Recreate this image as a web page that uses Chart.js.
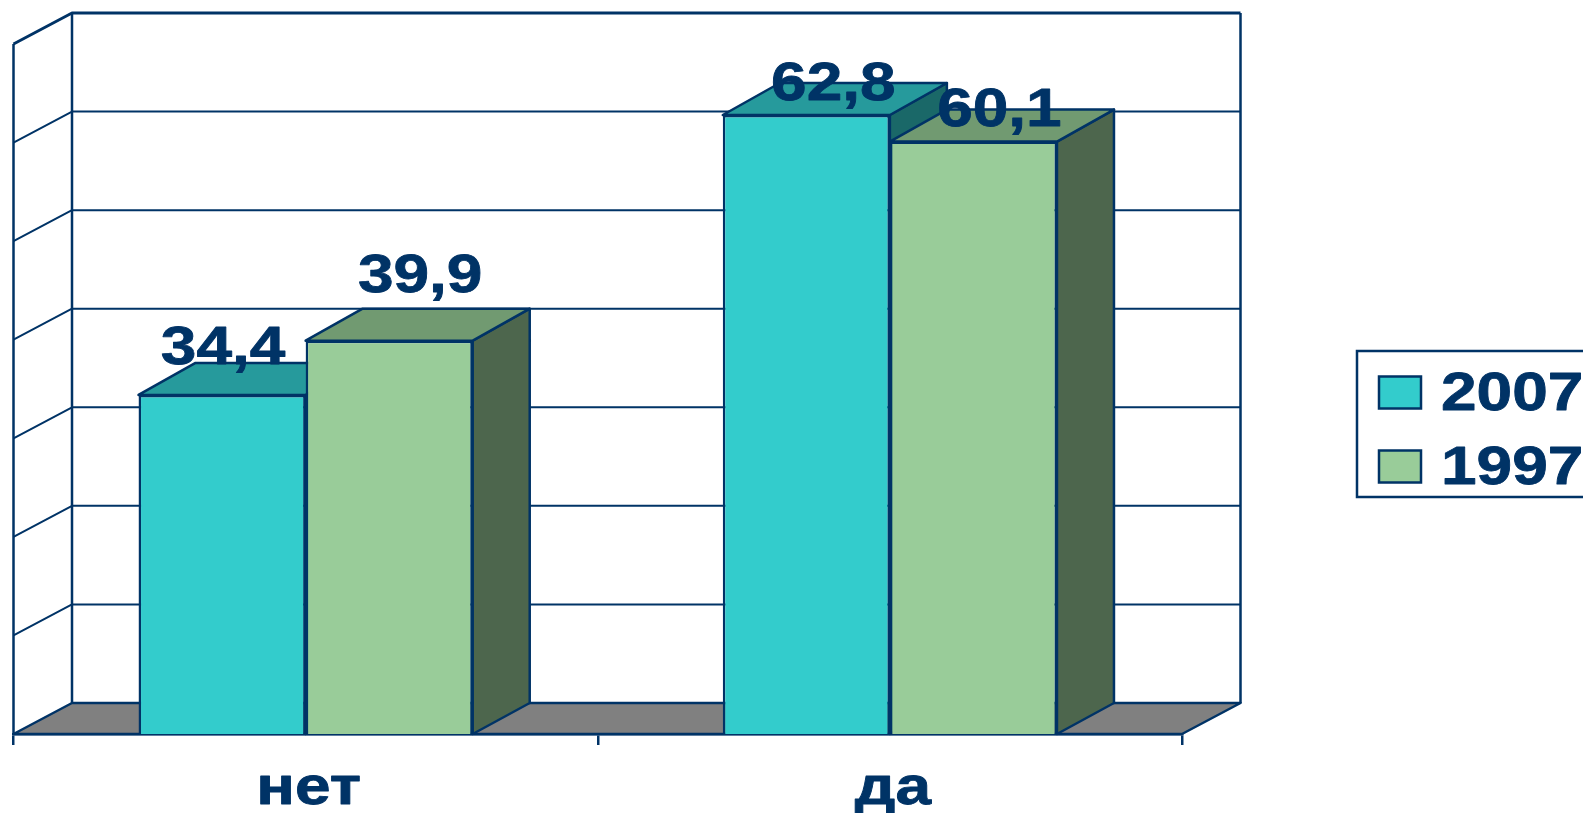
<!DOCTYPE html>
<html>
<head>
<meta charset="utf-8">
<title>chart</title>
<script src="https://cdn.jsdelivr.net/npm/chart.js@4/dist/chart.umd.js"></script>
<style>
  html, body { margin: 0; padding: 0; background: #fff; overflow: hidden; }
  canvas { display: block; }
</style>
</head>
<body>
<canvas id="chart" width="1583" height="813"></canvas>
<script>
// values
var categories = ['нет', 'да'];
var values2007 = [34.4, 62.8];
var values1997 = [39.9, 60.1];

var navy = '#003366';
var textFont = 'bold 54px "Liberation Sans"';

// 3d look: how far the walls and the bars go back
var wallDepth = { x: 58.5, y: -31 };
var barDepth = { x: 57, y: -32 };

// the value labels were placed by hand in the original
var labelNudge = [
  [{ x: 1, y: -31 }, { x: 27, y: -15 }],
  [{ x: 31, y: -49 }, { x: 26, y: -16 }]
];
var faceColors = [
  { top: '#269A9C', side: '#1A6868' },
  { top: '#719A71', side: '#4D664D' }
];
var legendFrame = { left: 1357, top: 351, width: 240, height: 146 };

function poly(ctx, pts, fill) {
  ctx.beginPath();
  pts.forEach(function (p, i) { i ? ctx.lineTo(p[0], p[1]) : ctx.moveTo(p[0], p[1]); });
  ctx.closePath();
  if (fill) { ctx.fillStyle = fill; ctx.fill(); }
  ctx.stroke();
}

// the original type is arial bold pulled wide, so squeeze the canvas sideways for it
function wideText(ctx, text, x, y, align) {
  ctx.save();
  ctx.translate(x, y);
  ctx.scale(1.185, 1);
  ctx.font = textFont;
  ctx.textAlign = align;
  ctx.textBaseline = 'alphabetic';
  ctx.fillStyle = navy;
  ctx.strokeStyle = navy;
  ctx.lineWidth = 0.8;
  ctx.lineJoin = 'round';
  ctx.fillText(text, 0, 0);
  ctx.strokeText(text, 0, 0);
  ctx.restore();
}

var box3d = {
  id: 'box3d',
  afterLayout: function (chart) {
    // legend hangs over the right edge of the page
    var legend = chart.legend;
    legend.left = 1354;
    legend.right = 1600;
    legend.top = 343;
    legend.bottom = 700;
  },
  beforeDatasetsDraw: function (chart) {
    var ctx = chart.ctx, a = chart.chartArea, y = chart.scales.y;
    var dx = wallDepth.x, dy = wallDepth.y;
    ctx.save();
    ctx.strokeStyle = navy;
    ctx.lineJoin = 'round';

    // floor
    ctx.lineWidth = 2.5;
    poly(ctx, [[a.left, a.bottom], [a.left + dx, a.bottom + dy], [a.right + dx, a.bottom + dy], [a.right, a.bottom]], '#808080');

    // gridlines along side wall and back wall
    y.ticks.forEach(function (t) {
      var py = y.getPixelForValue(t.value);
      if (t.value === 0) return;
      ctx.lineWidth = t.value === y.max ? 3 : 2;
      ctx.beginPath();
      ctx.moveTo(a.left, py);
      ctx.lineTo(a.left + dx, py + dy);
      ctx.lineTo(a.right + dx, py + dy);
      ctx.stroke();
    });

    // wall uprights
    ctx.lineWidth = 2.5;
    ctx.beginPath();
    ctx.moveTo(a.left, a.top);
    ctx.lineTo(a.left, a.bottom);
    ctx.moveTo(a.left + dx, a.top + dy);
    ctx.lineTo(a.left + dx, a.bottom + dy);
    ctx.moveTo(a.right + dx, a.top + dy);
    ctx.lineTo(a.right + dx, a.bottom + dy);
    ctx.stroke();

    // top and side of every bar, 2007 first so 1997 sits over it
    [0, 1].forEach(function (d) {
      chart.getDatasetMeta(d).data.forEach(function (bar) {
        var w = bar.width / 2, l = bar.x - w, r = bar.x + w;
        var bx = barDepth.x, by = barDepth.y;
        poly(ctx, [[r, bar.y], [r + bx, bar.y + by], [r + bx, bar.base + wallDepth.y], [r, bar.base]], faceColors[d].side);
        poly(ctx, [[l, bar.y], [l + bx, bar.y + by], [r + bx, bar.y + by], [r, bar.y]], faceColors[d].top);
      });
    });
    ctx.restore();
  },
  afterDatasetsDraw: function (chart) {
    var ctx = chart.ctx;
    [0, 1].forEach(function (d) {
      chart.getDatasetMeta(d).data.forEach(function (bar, i) {
        var v = chart.data.datasets[d].data[i];
        var n = labelNudge[d][i];
        wideText(ctx, String(v).replace('.', ','), bar.x + n.x, bar.y + n.y, 'center');
      });
    });
  },
  afterDraw: function (chart) {
    var ctx = chart.ctx, legend = chart.legend, x = chart.scales.x;
    ctx.save();
    ctx.strokeStyle = navy;
    ctx.lineWidth = 2.5;
    ctx.strokeRect(legendFrame.left, legendFrame.top, legendFrame.width, legendFrame.height);
    ctx.restore();

    // legend text and category names
    legend.legendItems.forEach(function (item, i) {
      var hit = legend.legendHitBoxes[i];
      wideText(ctx, item.text, hit.left + 62, hit.top + hit.height / 2 + 17, 'left');
    });
    x.getLabels().forEach(function (label, i) {
      wideText(ctx, label, x.getPixelForTick(i) + 3, 804, 'center');
    });
  }
};

new Chart(document.getElementById('chart'), {
  type: 'bar',
  data: {
    labels: categories,
    datasets: [
      { label: '2007', data: values2007, backgroundColor: '#33CCCC', borderColor: navy, borderWidth: 2.5 },
      { label: '1997', data: values1997, backgroundColor: '#99CC99', borderColor: navy, borderWidth: 2.5 }
    ]
  },
  plugins: [box3d],
  options: {
    responsive: false,
    animation: false,
    barPercentage: 1,
    categoryPercentage: 0.572,
    layout: { padding: { left: 13.5, top: 44, right: 401, bottom: 0 } },
    plugins: {
      tooltip: { enabled: false },
      legend: {
        position: 'chartArea',
        align: 'start',
        labels: {
          boxWidth: 42,
          boxHeight: 32,
          padding: 25,
          color: 'rgba(0,0,0,0)',
          font: { family: 'Liberation Sans', weight: 'bold', size: 49 }
        }
      }
    },
    scales: {
      x: {
        grid: { drawOnChartArea: false, drawTicks: true, tickLength: 11, color: navy, lineWidth: 2.5 },
        border: { display: true, color: navy, width: 2.5 },
        ticks: { color: 'rgba(0,0,0,0)', padding: 14, font: { family: 'Liberation Sans', weight: 'bold', size: 46 } },
        afterFit: function (scale) { scale.height = 79; }
      },
      y: {
        display: false,
        min: 0,
        max: 70,
        ticks: { stepSize: 10 }
      }
    }
  }
});
</script>
</body>
</html>
